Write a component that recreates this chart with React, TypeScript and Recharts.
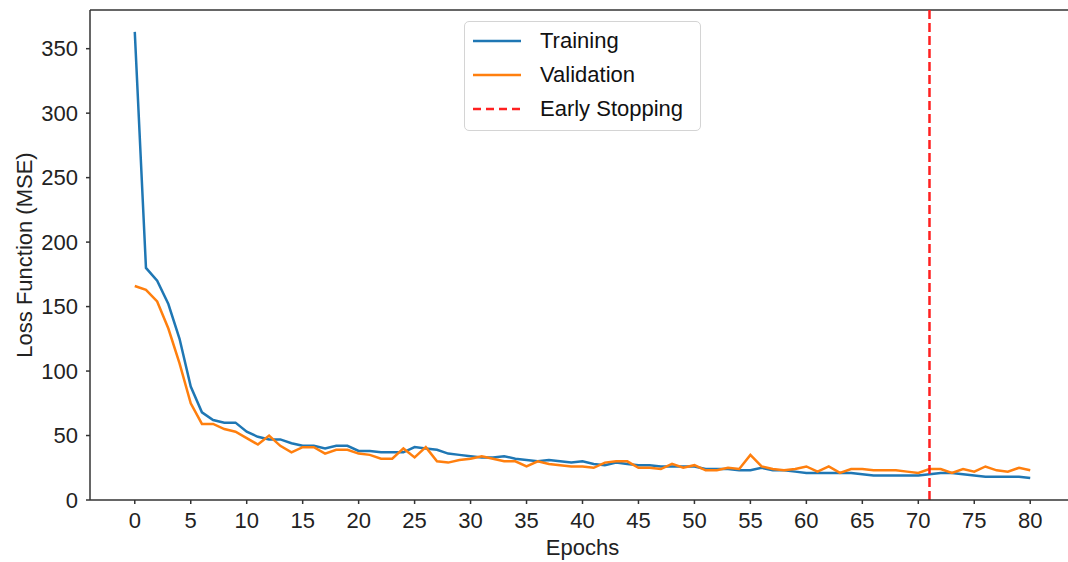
import React from 'react';
import { LineChart, Line, XAxis, YAxis, ReferenceLine, Legend, Label } from 'recharts';

// epochs on the x axis
const epochs = [
  0, 1, 2, 3, 4, 5, 6, 7, 8, 9, 10, 11, 12, 13, 14, 15, 16, 17, 18, 19, 20,
  21, 22, 23, 24, 25, 26, 27, 28, 29, 30, 31, 32, 33, 34, 35, 36, 37, 38, 39, 40,
  41, 42, 43, 44, 45, 46, 47, 48, 49, 50, 51, 52, 53, 54, 55, 56, 57, 58, 59, 60,
  61, 62, 63, 64, 65, 66, 67, 68, 69, 70, 71, 72, 73, 74, 75, 76, 77, 78, 79, 80,
];

const trainingLoss = [
  363, 180, 170, 152, 125, 88, 68, 62, 60, 60, 53,
  49, 47, 47, 44, 42, 42, 40, 42, 42, 38,
  38, 37, 37, 37, 41, 40, 39, 36, 35, 34,
  33, 33, 34, 32, 31, 30, 31, 30, 29, 30,
  28, 27, 29, 28, 27, 27, 26, 26, 26, 26,
  24, 24, 24, 23, 23, 25, 23, 23, 22, 21,
  21, 21, 21, 21, 20, 19, 19, 19, 19, 19,
  20, 21, 21, 20, 19, 18, 18, 18, 18, 17,
];

const validationLoss = [
  166, 163, 154, 133, 106, 75, 59, 59, 55, 53, 48,
  43, 50, 42, 37, 41, 41, 36, 39, 39, 36,
  35, 32, 32, 40, 33, 41, 30, 29, 31, 32,
  34, 32, 30, 30, 26, 30, 28, 27, 26, 26,
  25, 29, 30, 30, 25, 25, 24, 28, 25, 27,
  23, 23, 25, 24, 35, 26, 24, 23, 24, 26,
  22, 26, 21, 24, 24, 23, 23, 23, 22, 21,
  24, 24, 21, 24, 22, 26, 23, 22, 25, 23,
];

const xTicks = [0, 5, 10, 15, 20, 25, 30, 35, 40, 45, 50, 55, 60, 65, 70, 75, 80];
const yTicks = [0, 50, 100, 150, 200, 250, 300, 350];
const earlyStopEpoch = 71;

const FONT = '"Liberation Sans", Arial, sans-serif';
const AXIS = '#333';

const legendItems = [
  { name: 'Training', color: '#1f77b4', dash: undefined },
  { name: 'Validation', color: '#ff7f0e', dash: undefined },
  { name: 'Early Stopping', color: '#ff2020', dash: '8 5' },
];

const chartData = epochs.map((epoch, i) => ({
  epoch,
  training: trainingLoss[i],
  validation: validationLoss[i],
}));

const renderLegend = () => (
  <div
    style={{
      border: '1px solid #d4d4d4',
      borderRadius: 5,
      background: '#fff',
      padding: '2px 8px 4px 8px',
      boxSizing: 'border-box',
      width: 237,
      fontFamily: FONT,
    }}
  >
    {legendItems.map(item => (
      <div key={item.name} style={{ display: 'flex', alignItems: 'center', height: 34 }}>
        <svg width={48} height={6} style={{ flex: 'none' }}>
          <line x1={0} y1={3} x2={48} y2={3} stroke={item.color} strokeWidth={2.5} strokeDasharray={item.dash} />
        </svg>
        <span style={{ marginLeft: 19, fontSize: 22, color: '#111' }}>{item.name}</span>
      </div>
    ))}
  </div>
);

const App: React.FC = () => {
  return (
    <div style={{ position: 'absolute', left: 0, top: 0, width: 1068, height: 562, overflow: 'hidden', background: '#fff' }}>
      <LineChart
        width={1080}
        height={562}
        data={chartData}
        margin={{ top: 10, right: 5, bottom: 0, left: 0 }}
      >
        <XAxis
          dataKey="epoch"
          type="number"
          domain={[-4, 84]}
          ticks={xTicks}
          height={62}
          stroke={AXIS}
          strokeWidth={1.5}
          tickSize={4}
          tickMargin={8}
          tick={{ fill: '#222', fontSize: 22, fontFamily: FONT }}
        >
          <Label
            content={({ viewBox }: any) => (
              <text
                x={viewBox.x + viewBox.width / 2}
                y={555}
                textAnchor="middle"
                fontSize={22}
                fontFamily={FONT}
                fill="#222"
              >
                Epochs
              </text>
            )}
          />
        </XAxis>
        <YAxis
          type="number"
          domain={[0, 380]}
          ticks={yTicks}
          width={90}
          stroke={AXIS}
          strokeWidth={1.5}
          tickSize={4}
          tickMargin={8}
          allowDataOverflow
          tick={{ fill: '#222', fontSize: 22, fontFamily: FONT }}
        >
          <Label
            content={({ viewBox }: any) => {
              const cy = viewBox.y + viewBox.height / 2;
              return (
                <text
                  x={32}
                  y={cy}
                  transform={`rotate(-90 32 ${cy})`}
                  textAnchor="middle"
                  fontSize={22}
                  fontFamily={FONT}
                  fill="#222"
                >
                  Loss Function (MSE)
                </text>
              );
            }}
          />
        </YAxis>
        <ReferenceLine y={380} stroke={AXIS} strokeWidth={1.5} />
        <ReferenceLine x={84} stroke={AXIS} strokeWidth={1.5} />
        <Legend
          layout="vertical"
          align="center"
          verticalAlign="middle"
          content={renderLegend}
          wrapperStyle={{ left: 464, top: 21, width: 237 }}
        />
        <Line
          type="linear"
          dataKey="training"
          name="Training"
          stroke="#1f77b4"
          strokeWidth={2.5}
          dot={false}
          isAnimationActive={false}
        />
        <Line
          type="linear"
          dataKey="validation"
          name="Validation"
          stroke="#ff7f0e"
          strokeWidth={2.5}
          dot={false}
          isAnimationActive={false}
        />
        <ReferenceLine x={earlyStopEpoch} stroke="#ff2020" strokeWidth={2.5} strokeDasharray="9 4" />
      </LineChart>
    </div>
  );
};

export default App;
